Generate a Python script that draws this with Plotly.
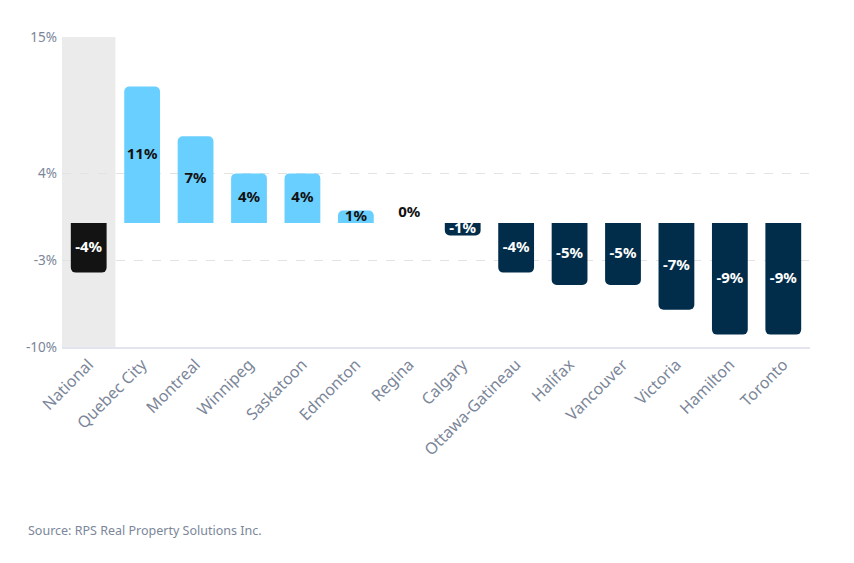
import plotly.graph_objects as go

cities = ["National", "Quebec City", "Montreal", "Winnipeg", "Saskatoon", "Edmonton",
          "Regina", "Calgary", "Ottawa-Gatineau", "Halifax", "Vancouver", "Victoria",
          "Hamilton", "Toronto"]
values = [-4, 11, 7, 4, 4, 1, 0, -1, -4, -5, -5, -7, -9, -9]
tick_vals = [15, 4, -3, -10]
tick_text = ["15%", "4%", "-3%", "-10%"]

LIGHT = "#69cfff"
DARK = "#012d4b"
BLACK = "#131313"

colors = []
text_colors = []
for i, v in enumerate(values):
    if i == 0:
        colors.append(BLACK); text_colors.append("white")
    elif v >= 0:
        colors.append(LIGHT); text_colors.append("#111111")
    else:
        colors.append(DARK); text_colors.append("white")

fig = go.Figure()
fig.add_trace(go.Bar(
    x=cities, y=values, marker=dict(color=colors, cornerradius=5, line=dict(width=0)),
    hoverinfo="skip", showlegend=False,
))
label_y = [0.8 if v == 0 else v / 2 for v in values]
fig.add_trace(go.Scatter(
    x=cities, y=label_y, mode="text",
    text=[f"{v}%" for v in values],
    textfont=dict(family="Noto Sans", size=15, color=text_colors, weight="bold"),
    textposition="middle center", showlegend=False, hoverinfo="skip",
))

fig.add_shape(type="rect", xref="x", yref="paper", x0=-0.5, x1=0.5, y0=0, y1=1,
              fillcolor="#ebebeb", line=dict(width=0), layer="below")

fig.update_layout(
    width=854, height=563,
    margin=dict(l=62, r=44, t=37, b=216, autoexpand=False),
    plot_bgcolor="white", paper_bgcolor="white",
    bargap=0.33,
    font=dict(family="Noto Sans", color="#7b8699"),
    annotations=[dict(text="Source: RPS Real Property Solutions Inc.", xref="paper", yref="paper",
                      x=-36/748, y=-183/310, xanchor="left", yanchor="middle", showarrow=False,
                      font=dict(size=12.5, color="#7b8699", family="Noto Sans"))],
)
fig.update_yaxes(range=[-10, 15], tickvals=tick_vals, ticktext=tick_text,
                 showgrid=True, gridcolor="#e3e3e3", griddash="dash", gridwidth=1,
                 zeroline=False, tickfont=dict(size=13.5, color="#7b8699"), ticks="",
                 ticklabelstandoff=4, automargin=False)
fig.update_xaxes(range=[-0.5, len(cities) - 0.5], tickangle=-45,
                 tickfont=dict(size=16, color="#7b8699"), showline=True,
                 linecolor="#e4e4ee", linewidth=2, ticks="", showgrid=False, automargin=False)

fig.write_html("out.html")
